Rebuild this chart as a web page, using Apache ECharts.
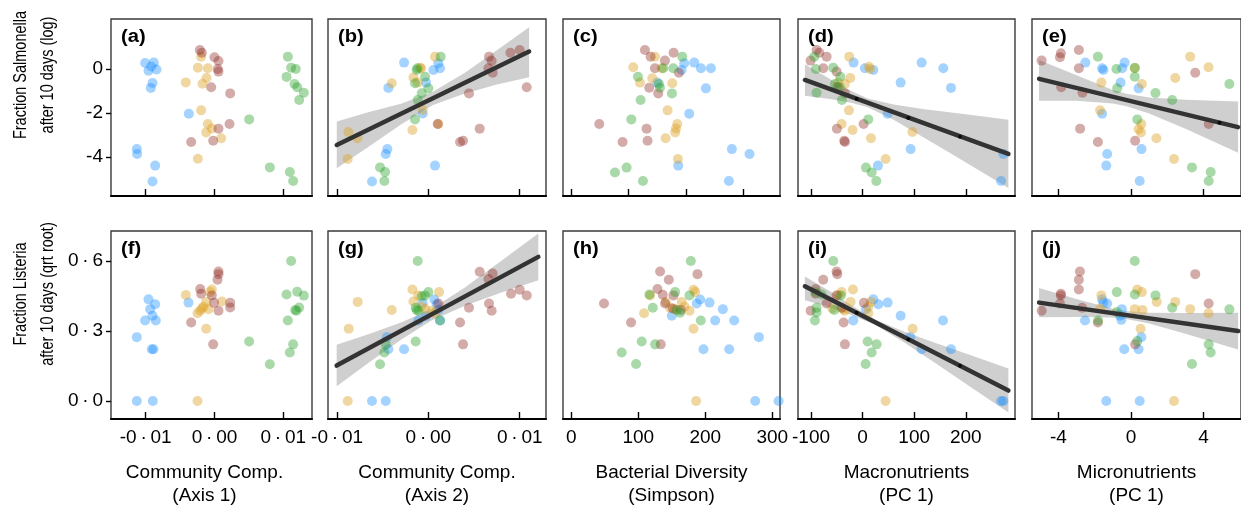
<!DOCTYPE html>
<html><head><meta charset="utf-8">
<script src="https://cdn.jsdelivr.net/npm/echarts@6/dist/echarts.min.js"></script>
<style>html,body{margin:0;padding:0;background:#fff}#c{width:1241px;height:508px}</style>
</head><body><div id="c"></div>
<script>
// groups: 0 blue, 1 yellow, 2 brown, 3 green
const ptsA = [[-0.01008,0.27,0],[-0.00882,0.29,0],[-0.00959,-0.08,0],[-0.00843,-0.02,0],[-0.0092,0.11,0],[-0.00901,-0.64,0],[-0.00925,-0.86,0],[-0.00373,-2.03,0],[-0.01129,-3.64,0],[-0.01124,-3.86,0],[-0.00862,-4.39,0],[-0.00901,-5.11,0],
 [-0.00194,0.56,1],[-0.00242,0.06,1],[-0.00097,0.03,1],[-0.00417,-0.61,1],[-0.00116,-0.41,1],[-0.00174,-0.67,1],[-0.00194,-1.88,1],[-0.00097,-2.5,1],[-0.00039,-2.7,1],[-0.00121,-2.88,1],[0.00097,-3.15,1],[-0.00242,-4.08,1],
 [-0.00213,0.86,2],[-0.00184,0.74,2],[0.0,0.53,2],[0.00058,0.36,2],[0.00048,0.0,2],[0.00058,-0.12,2],[-0.00048,-0.83,2],[0.00228,-1.11,2],[0.00218,-2.5,2],[0.00058,-2.71,2],[-0.00339,-3.32,2],[-0.00019,-3.26,2],
 [0.01066,0.56,3],[0.01114,0.06,3],[0.01182,0.0,3],[0.01047,-0.36,3],[0.01163,-0.68,3],[0.01202,-0.83,3],[0.01298,-1.08,3],[0.01231,-1.41,3],[0.00504,-2.29,3],[0.00804,-4.47,3],[0.01095,-4.68,3],[0.01143,-5.09,3]];
const ptsB = [[-0.00266,0.29,0],[0.00109,0.26,0],[0.00055,-0.05,0],[0.00128,0.03,0],[-0.00026,-0.62,0],[-0.00438,-0.86,0],[-0.00062,-2.02,0],[-0.00449,-3.64,0],[-0.00467,-3.86,0],[0.00073,-4.39,0],[-0.00617,-5.11,0],
 [0.00073,0.56,1],[-0.00091,0.06,1],[-0.0008,0.02,1],[-0.00401,-0.65,1],[-0.00164,-0.39,1],[-0.00117,-0.62,1],[-0.00062,-1.86,1],[-0.00175,-2.77,1],[0.00109,-2.5,1],[-0.00876,-2.86,1],[-0.00777,-3.15,1],[-0.00883,-4.09,1],
 [0.01,0.86,2],[0.00898,0.74,2],[0.00664,0.56,2],[0.00693,0.36,2],[0.00657,0.03,2],[0.00704,-0.17,2],[0.01077,-0.83,2],[0.00445,-1.11,2],[0.00102,-2.5,2],[0.00562,-2.71,2],[0.00347,-3.32,2],[0.0038,-3.26,2],
 [0.00135,0.56,3],[-0.0012,0.03,3],[-0.00128,-0.05,3],[-0.00036,-0.35,3],[-0.00146,-0.65,3],[0.0,-0.88,3],[-0.00073,-1.1,3],[-0.00117,-1.41,3],[-0.00146,-2.29,3],[-0.00529,-4.47,3],[-0.00474,-4.68,3],[-0.00482,-5.09,3]];
const ptsC = [[214.5,0.29,0],[197.1,0.26,0],[192.4,-0.05,0],[226.2,0.03,0],[243.6,0.03,0],[234.9,-0.88,0],[150,-0.62,0],[205.8,-2.03,0],[280.2,-3.64,0],[311,-3.86,0],[186.6,-4.39,0],[275,-5.09,0],
 [145.9,0.56,1],[108.1,0.08,1],[157.6,0.03,1],[119.8,-0.62,1],[141.3,-0.42,1],[176.2,-0.65,1],[168,-1.88,1],[184.9,-2.5,1],[182.6,-2.7,1],[181.4,-2.88,1],[164.5,-3.15,1],[186,-4.09,1],
 [128.5,0.86,2],[178.5,0.74,2],[138.4,0.56,2],[163.4,0.38,2],[145.9,0.03,2],[187.8,-0.17,2],[136,-0.85,2],[151.7,-1.11,2],[48.8,-2.5,2],[131.4,-2.71,2],[89.5,-3.32,2],[133.1,-3.26,2],
 [193.6,0.56,3],[160.5,0.03,3],[177.9,0.03,3],[116.3,-0.35,3],[152.9,-0.68,3],[154.7,-0.85,3],[175.6,-1.11,3],[120.9,-1.41,3],[104.7,-2.29,3],[96.5,-4.48,3],[76.2,-4.7,3],[125,-5.09,3]];
const ptsD = [[-17.5,0.29,0],[114.4,0.29,0],[4.5,0.03,0],[156.4,0.03,0],[20.7,-0.05,0],[73.7,-0.62,0],[171.3,-0.86,0],[48.5,-2.03,0],[93.1,-3.64,0],[272.8,-3.86,0],[29.7,-4.39,0],[268.3,-5.09,0],
 [-25.9,0.56,1],[12.3,0.1,1],[14.2,0.0,1],[-23.9,-0.41,1],[-47.2,-0.62,1],[-34.3,-0.68,1],[-26.5,-1.88,1],[-40.7,-2.5,1],[-19.4,-2.77,1],[96.3,-2.86,1],[16.2,-3.15,1],[44.6,-4.09,1],
 [-89.2,0.86,2],[-84,0.74,2],[-69.8,0.56,2],[-100.8,0.38,2],[-76.3,0.03,2],[-50.4,-0.12,2],[-48.5,-0.82,2],[-34.3,-1.11,2],[1.9,-2.5,2],[-49.8,-2.71,2],[-34.3,-3.32,2],[-35.6,-3.26,2],
 [-93.7,0.56,3],[-56.9,0.06,3],[-90.5,0.0,3],[-43.3,-0.35,3],[-53.7,-0.68,3],[-44,-0.83,3],[-89.2,-1.08,3],[-40.1,-1.41,3],[11,-2.29,3],[6.5,-4.48,3],[17.5,-4.7,3],[26.5,-5.09,3]];
const ptsE = [[-2.51,0.29,0],[-0.35,0.29,0],[-1.59,0.03,0],[-0.48,0.03,0],[-1.52,-0.05,0],[-0.57,-0.62,0],[0.42,-0.88,0],[-1.59,-2.03,0],[0.58,-3.64,0],[-1.31,-3.86,0],[-1.36,-4.39,0],[0.48,-5.09,0],
 [3.26,0.56,1],[4.27,0.08,1],[0.21,0.03,1],[2.44,-0.41,1],[-1.63,-0.62,1],[0.6,-0.68,1],[-1.7,-1.88,1],[0.57,-2.5,1],[0.42,-2.74,1],[0.55,-2.88,1],[1.4,-3.15,1],[2.37,-4.09,1],
 [-2.87,0.86,2],[-3.86,0.71,2],[-3.91,0.53,2],[-4.92,0.38,2],[-2.87,0.03,2],[3.54,-0.17,2],[-3.84,-0.83,2],[-2.67,-1.08,2],[4.28,-2.5,2],[-2.8,-2.71,2],[-1.82,-3.32,2],[0.23,-3.26,2],
 [-1.82,0.56,3],[0.21,0.06,3],[-0.8,0.0,3],[0.21,-0.35,3],[5.42,-0.68,3],[-0.76,-0.88,3],[1.35,-1.09,3],[2.27,-1.41,3],[0.35,-2.29,3],[3.36,-4.47,3],[4.39,-4.68,3],[4.28,-5.09,3]];
const ptsF = [[-0.00959,0.436,0],[-0.00935,0.394,0],[-0.00862,0.415,0],[-0.00901,0.366,0],[-0.01008,0.345,0],[-0.00853,0.345,0],[-0.01129,0.274,0],[-0.00911,0.222,0],[-0.00887,0.222,0],[-0.00378,0.422,0],[-0.01129,0.0,0],[-0.00896,0.0,0],
 [-0.00417,0.455,1],[-0.00039,0.478,1],[-0.00063,0.467,1],[0.00107,0.427,1],[-0.00121,0.425,1],[-0.00184,0.397,1],[-0.00087,0.394,1],[-0.00247,0.376,1],[-0.00208,0.387,1],[-0.0016,0.404,1],[-0.00121,0.31,1],[-0.00247,0.0,1],
 [0.00058,0.555,2],[0.00058,0.544,2],[0.00044,0.52,2],[-0.00208,0.48,2],[-0.00194,0.46,2],[-0.00039,0.453,2],[-0.00005,0.421,2],[0.00228,0.421,2],[0.00228,0.401,2],[0.00058,0.387,2],[-0.00339,0.337,2],[-0.00019,0.243,2],
 [0.01114,0.6,3],[0.01047,0.457,3],[0.01202,0.469,3],[0.01298,0.452,3],[0.01231,0.401,3],[0.01172,0.39,3],[0.01192,0.387,3],[0.01066,0.345,3],[0.00504,0.255,3],[0.01143,0.243,3],[0.01095,0.208,3],[0.00804,0.158,3]];
const ptsG = [[0.00066,0.435,0],[0.00109,0.39,0],[0.00091,0.415,0],[-0.00026,0.365,0],[-0.00109,0.345,0],[0.00128,0.345,0],[-0.00453,0.274,0],[-0.00438,0.222,0],[-0.00266,0.222,0],[-0.00062,0.42,0],[-0.00617,0.0,0],[-0.00467,0.0,0],
 [-0.00175,0.478,1],[0.00117,0.467,1],[-0.00774,0.425,1],[-0.00401,0.39,1],[-0.00872,0.31,1],[-0.00883,0.0,1],[-0.00164,0.427,1],[-0.00109,0.453,1],[-0.00073,0.404,1],[0.00036,0.387,1],[0.00073,0.376,1],[-0.00036,0.396,1],
 [0.00562,0.554,2],[0.00704,0.547,2],[0.00657,0.523,2],[0.01,0.477,2],[0.01077,0.453,2],[0.00905,0.46,2],[0.00664,0.418,2],[0.00109,0.418,2],[0.00445,0.4,2],[0.00693,0.387,2],[0.00347,0.337,2],[0.0038,0.243,2],
 [-0.00117,0.6,3],[-0.00036,0.453,3],[0.0,0.467,3],[-0.00073,0.449,3],[-0.00139,0.4,3],[-0.00128,0.39,3],[-0.00109,0.387,3],[0.00128,0.345,3],[-0.00139,0.255,3],[-0.00467,0.243,3],[-0.00482,0.208,3],[-0.00529,0.158,3]];
const ptsH = [[192.3,0.435,0],[226.2,0.394,0],[206.3,0.422,0],[150,0.366,0],[214.7,0.345,0],[243.1,0.345,0],[280,0.274,0],[197.3,0.222,0],[235.7,0.222,0],[187.3,0.418,0],[274.5,0.0,0],[309.4,0.0,0],
 [117.6,0.453,1],[182.4,0.477,1],[184.9,0.467,1],[141,0.425,1],[164.9,0.425,1],[155,0.394,1],[168.9,0.404,1],[108.6,0.376,1],[176.4,0.387,1],[147.5,0.4,1],[182.4,0.31,1],[186.3,0.0,1],
 [132.5,0.555,2],[188.3,0.544,2],[145.5,0.52,2],[128.6,0.48,2],[136.5,0.456,2],[48.8,0.418,2],[140,0.418,2],[151.5,0.397,2],[163.4,0.39,2],[89.2,0.337,2],[133.5,0.243,2],[152.5,0.453,2],
 [178.4,0.6,3],[116.6,0.457,3],[155,0.467,3],[176.4,0.453,3],[121.6,0.4,3],[162.4,0.379,3],[157.4,0.39,3],[193.3,0.345,3],[105.1,0.255,3],[125.1,0.243,3],[75.2,0.208,3],[96.7,0.159,3]];
const ptsI = [[20.7,0.436,0],[6.5,0.394,0],[30.4,0.415,0],[73.7,0.366,0],[-18.1,0.345,0],[155.8,0.345,0],[92.4,0.274,0],[114.4,0.222,0],[171.3,0.222,0],[48.5,0.422,0],[268.3,0.0,0],[272.8,0.0,0],
 [-18.7,0.478,1],[-40.7,0.467,1],[16.2,0.425,1],[-23.3,0.425,1],[-58.8,0.397,1],[-37.5,0.394,1],[11,0.376,1],[-34.3,0.387,1],[11,0.404,1],[97,0.31,1],[44.6,0.0,1],[-47.2,0.455,1],
 [-50.4,0.555,2],[-49.1,0.544,2],[-76.3,0.52,2],[-91.1,0.48,2],[-91.1,0.46,2],[-50.4,0.453,2],[-69.8,0.418,2],[2.6,0.421,2],[-40.7,0.4,2],[-100.8,0.387,2],[-36.8,0.337,2],[-34.3,0.243,2],
 [-56.9,0.6,3],[-79.5,0.457,3],[-91.1,0.467,3],[-42,0.453,3],[-89.2,0.4,3],[-54.9,0.39,3],[-89.2,0.38,3],[-92.4,0.345,3],[9.7,0.255,3],[27.1,0.243,3],[17.5,0.208,3],[5.8,0.159,3]];
const ptsJ = [[-1.59,0.436,0],[-1.31,0.418,0],[-1.52,0.422,0],[-0.5,0.394,0],[-2.53,0.345,0],[-0.53,0.348,0],[-0.6,0.366,0],[0.57,0.274,0],[-0.37,0.222,0],[0.42,0.222,0],[-1.36,0.0,0],[0.48,0.0,0],
 [-1.63,0.453,1],[0.35,0.478,1],[0.6,0.467,1],[1.42,0.425,1],[2.44,0.425,1],[3.26,0.394,1],[4.27,0.376,1],[0.21,0.394,1],[0.64,0.39,1],[-1.7,0.397,1],[0.53,0.31,1],[2.37,0.0,1],
 [-2.81,0.555,2],[3.54,0.544,2],[-2.87,0.52,2],[-2.87,0.478,2],[-3.86,0.46,2],[-3.86,0.453,2],[-3.91,0.418,2],[4.28,0.418,2],[-2.69,0.4,2],[-4.92,0.387,2],[-1.82,0.337,2],[0.23,0.243,2],
 [0.21,0.6,3],[-0.78,0.467,3],[0.21,0.457,3],[1.35,0.453,3],[2.27,0.4,3],[5.42,0.393,3],[-0.78,0.382,3],[-1.81,0.345,3],[0.35,0.257,3],[4.28,0.243,3],[4.39,0.208,3],[3.36,0.159,3]];

// regression fits: [x, y] endpoints; bands: [x, lower, upper]
const lineB = [[-0.01003,-3.45],[0.01103,0.79]];
const bandB = [[-0.01003,-4.51,-2.39],[-0.0065,-3.52,-1.96],[-0.003,-2.52,-1.58],[0.0005,-1.64,-1.04],[0.004,-1.11,-0.17],[0.0075,-0.71,0.85],[0.01103,-0.38,1.89]];
const lineD = [[-111.8,-0.5],[282.5,-3.86]];
const bandD = [[-111.8,-1.22,0.22],[-60,-1.38,-0.5],[-20,-1.54,-1.02],[10,-1.74,-1.34],[60,-2.31,-1.61],[120,-3.13,-1.83],[180,-3.97,-2.0],[230,-4.67,-2.15],[282.5,-5.41,-2.31]];
const knotsD = [[-11.6,-1.36],[88.6,-2.23],[188.8,-3.08]];
const lineE = [[-5.06,-0.45],[5.9,-2.64]];
const bandE = [[-5.06,-1.44,0.41],[-3,-1.44,-0.28],[-1,-1.57,-0.95],[-0.25,-1.69,-1.13],[1,-2.02,-1.30],[3,-2.72,-1.40],[5.9,-3.8,-1.48]];
const knotsE = [[4.88,-2.44]];
const lineG = [[-0.01004,0.152],[0.01204,0.618]];
const bandG = [[-0.01004,0.063,0.241],[-0.0065,0.165,0.287],[-0.003,0.263,0.337],[0.0003,0.344,0.394],[0.004,0.409,0.487],[0.008,0.465,0.601],[0.01204,0.518,0.718]];
const lineI = [[-111.8,0.492],[282.5,0.045]];
const bandI = [[-111.8,0.432,0.534],[-60,0.4,0.466],[-20,0.368,0.408],[25,0.326,0.348],[80,0.252,0.298],[140,0.164,0.25],[200,0.074,0.204],[282.5,-0.049,0.139]];
const knotsI = [[-11.6,0.379],[88.6,0.264],[188.8,0.151]];
const lineJ = [[-5.06,0.422],[5.9,0.3]];
const bandJ = [[-5.06,0.359,0.485],[-3,0.36,0.438],[-1,0.358,0.396],[-0.25,0.352,0.386],[1,0.332,0.378],[3,0.289,0.377],[5.9,0.221,0.379]];

// ticks and labels
const ticksComm = [-0.01, 0, 0.01], labelsComm = ['-0\u2009·\u200901','0\u2009·\u200900','0\u2009·\u200901'];
const ticksDiv = [0, 100, 200, 300], labelsDiv = ['0','100','200','300'];
const ticksMacro = [-100, 0, 100, 200], labelsMacro = ['-100','0','100','200'];
const ticksMicro = [-4, 0, 4], labelsMicro = ['-4','0','4'];
const ticksSal = [0, -2, -4], labelsSal = ['0','-2','-4'];
const ticksLis = [0.6, 0.3, 0], labelsLis = ['0\u2009·\u20096','0\u2009·\u20093','0\u2009·\u20090'];
const xTitles = ['Community Comp.\n(Axis 1)','Community Comp.\n(Axis 2)','Bacterial Diversity\n(Simpson)','Macronutrients\n(PC 1)','Micronutrients\n(PC 1)'];
const yTitles = [['Fraction Salmonella','after 10 days (log)'],['Fraction Listeria','after 10 days (qrt root)']];
const panelLetters = ['(a)','(b)','(c)','(d)','(e)','(f)','(g)','(h)','(i)','(j)'];

// layout
const FONT = '"Liberation Sans", Arial, Helvetica, sans-serif';
const groupColors = ['rgba(30,144,255,0.5)','rgba(220,165,40,0.55)','rgba(140,40,30,0.48)','rgba(40,160,40,0.5)'];
const cols = [{left:111,width:201},{left:328,width:218},{left:563,width:217},{left:798,width:217},{left:1032,width:217}];
const rows = [{top:19,height:177},{top:231,height:192}];
const yRanges = [[-5.77,2.27],[-0.077,0.729]];
const panels = [
  {pts:ptsA, xr:[-0.01504,0.01417], t:ticksComm, l:labelsComm},
  {pts:ptsB, xr:[-0.01099,0.01288], t:ticksComm, l:labelsComm, line:lineB, band:bandB},
  {pts:ptsC, xr:[-14.5,364.2], t:ticksDiv, l:labelsDiv},
  {pts:ptsD, xr:[-125.2,295.3], t:ticksMacro, l:labelsMacro, line:lineD, band:bandD, knots:knotsD},
  {pts:ptsE, xr:[-5.45,6.06], t:ticksMicro, l:labelsMicro, line:lineE, band:bandE, knots:knotsE},
  {pts:ptsF, xr:[-0.01504,0.01417], t:ticksComm, l:labelsComm},
  {pts:ptsG, xr:[-0.01099,0.01288], t:ticksComm, l:labelsComm, line:lineG, band:bandG},
  {pts:ptsH, xr:[-12.4,311.5], t:ticksDiv, l:labelsDiv},
  {pts:ptsI, xr:[-125.2,295.3], t:ticksMacro, l:labelsMacro, line:lineI, band:bandI, knots:knotsI},
  {pts:ptsJ, xr:[-5.45,6.06], t:ticksMicro, l:labelsMicro, line:lineJ, band:bandJ}
];

function labelFor(ticks, labels){
  return function(v){ let bi=0, bd=Infinity; ticks.forEach((t,i)=>{const d=Math.abs(t-v); if(d<bd){bd=d;bi=i;}}); return labels[bi]; };
}

const grid=[], xAxis=[], yAxis=[], series=[], graphic=[];
panels.forEach((p,i)=>{
  const r = Math.floor(i/5), c = i%5;
  grid.push({left:cols[c].left, width:cols[c].width, top:rows[r].top, height:rows[r].height, show:true, borderColor:'#3a3a3a', borderWidth:1.4, backgroundColor:'transparent'});
  xAxis.push({type:'value', gridIndex:i, min:p.xr[0], max:p.xr[1],
    axisLine:{show:true, onZero:false, lineStyle:{color:'#000', width:2}},
    axisTick:{show:true, inside:true, length:7, customValues:p.t, lineStyle:{color:'#000', width:1.4}},
    axisLabel:{show:r===1, customValues:p.t, formatter:labelFor(p.t,p.l), color:'#000', fontFamily:FONT, fontSize:19, margin:9},
    splitLine:{show:false},
    name: r===1 ? xTitles[c] : '', nameLocation:'middle', nameGap:42,
    nameTextStyle:{color:'#000', fontFamily:FONT, fontSize:19, lineHeight:23, padding: c===0 ? [0,14,0,0] : 0}
  });
  const yt = r===0 ? ticksSal : ticksLis, yl = r===0 ? labelsSal : labelsLis;
  yAxis.push({type:'value', gridIndex:i, min:yRanges[r][0], max:yRanges[r][1],
    axisLine:{show:false, onZero:false},
    axisTick:{show:c===0, inside:false, length:5, customValues:yt, lineStyle:{color:'#000', width:1.4}},
    axisLabel:{show:c===0, customValues:yt, formatter:labelFor(yt,yl), color:'#000', fontFamily:FONT, fontSize:19, margin:8},
    splitLine:{show:false}
  });
  if (p.band){
    const band = p.band;
    series.push({type:'custom', xAxisIndex:i, yAxisIndex:i, z:1, silent:true, data:band.map(d=>[d[0],d[1],d[2]]),
      encode:{x:0, y:[1,2]},
      renderItem:function(params, api){
        if (params.dataIndex!==0) return null;
        const up = band.map(d=>api.coord([d[0],d[2]]));
        const lo = band.slice().reverse().map(d=>api.coord([d[0],d[1]]));
        return {type:'polygon', shape:{points:up.concat(lo)}, style:{fill:'#cfcfcf', stroke:null}};
      }});
  }
  series.push({type:'scatter', xAxisIndex:i, yAxisIndex:i, z:2, symbolSize:10, silent:true,
    data:p.pts.map(d=>[d[0],d[1],d[2]]),
    itemStyle:{color:function(q){return groupColors[q.data[2]];}}});
  if (p.line){
    series.push({type:'line', xAxisIndex:i, yAxisIndex:i, z:3, data:p.line, symbol:'none', silent:true,
      lineStyle:{color:'#333', width:4.5, cap:'round'}});
  }
  if (p.knots){
    series.push({type:'scatter', xAxisIndex:i, yAxisIndex:i, z:4, symbolSize:4, data:p.knots, silent:true, itemStyle:{color:'#000'}});
  }
  graphic.push({type:'text', x:cols[c].left+10, y:rows[r].top+9, z:10, scaleX:1.12,
    style:{text:panelLetters[i], font:'bold 18px '+FONT, fill:'#000', textVerticalAlign:'top'}});
});
yTitles.forEach((lines,r)=>{
  const cy = r===0 ? 75 : 294;
  graphic.push({type:'text', x:21, y:cy, rotation:Math.PI/2, scaleY:1.25, style:{text:lines[0], font:'14.5px '+FONT, fill:'#000', textAlign:'center', textVerticalAlign:'middle'}});
  graphic.push({type:'text', x:48, y:cy, rotation:Math.PI/2, scaleY:1.25, style:{text:lines[1], font:'14.5px '+FONT, fill:'#000', textAlign:'center', textVerticalAlign:'middle'}});
});

const chart = echarts.init(document.getElementById('c'), null, {renderer:'canvas'});
chart.setOption({animation:false, backgroundColor:'#fff', grid, xAxis, yAxis, series, graphic});
</script></body></html>
